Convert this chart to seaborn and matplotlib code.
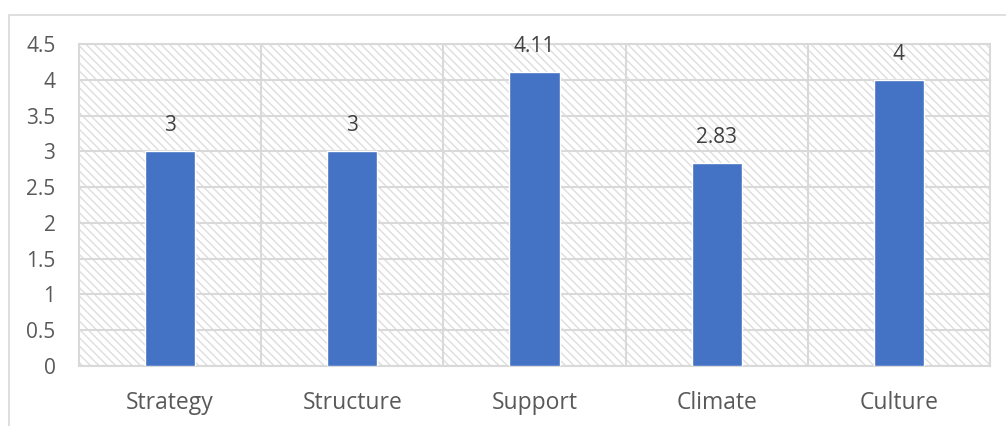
import matplotlib
matplotlib.use("Agg")
import matplotlib.pyplot as plt
import seaborn as sns
import pandas as pd
from matplotlib.patches import Rectangle

categories = ["Strategy", "Structure", "Support", "Climate", "Culture"]
values = [3, 3, 4.11, 2.83, 4]
value_labels = ["3", "3", "4.11", "2.83", "4"]
y_ticks = [0, 0.5, 1, 1.5, 2, 2.5, 3, 3.5, 4, 4.5]
y_tick_labels = ["0", "0.5", "1", "1.5", "2", "2.5", "3", "3.5", "4", "4.5"]

sns.set_theme(style="white")
plt.rcParams['font.family'] = ['Open Sans', 'DejaVu Sans']
plt.rcParams['hatch.linewidth'] = 1.0
plt.rcParams['hatch.color'] = '#dedede'

df = pd.DataFrame({"category": categories, "value": values})

fig = plt.figure(figsize=(10.06, 4.26), dpi=100)
fig.patch.set_facecolor("white")
# outer chart border (cropped on right/bottom)
fig.add_artist(Rectangle((9/1006, -0.1), 1.2, (426-15)/426 + 0.1, transform=fig.transFigure,
                         fill=False, edgecolor="#d9d9d9", linewidth=1.2))

ax = fig.add_axes([79/1006, 60/426, (990-79)/1006, (366-44)/426])
ax.set_facecolor("white")
ax.add_patch(Rectangle((0, 0), 1, 1, transform=ax.transAxes, facecolor="white",
                       edgecolor="#dedede", hatch="\\\\\\\\", linewidth=0, zorder=0))

sns.barplot(data=df, x="category", y="value", color="#4472C4", saturation=1,
            width=0.275, ax=ax, zorder=3)

ax.set_xlim(-0.5, 4.5)
ax.set_ylim(0, 4.5)
ax.set_yticks(y_ticks)
ax.set_yticklabels(y_tick_labels)
for y in y_ticks:
    ax.axhline(y, color="#d9d9d9", linewidth=1.5, zorder=1)
for xb in [0.5, 1.5, 2.5, 3.5]:
    ax.axvline(xb, color="#d9d9d9", linewidth=1.5, zorder=1)
for s in ax.spines.values():
    s.set_color("#d9d9d9")
    s.set_linewidth(1.5)

for i, (v, lab) in enumerate(zip(values, value_labels)):
    ax.annotate(lab, (i, v), xytext=(0, 18.5), textcoords="offset points",
                ha="center", va="center", fontsize=15, color="#404040")

ax.set_xlabel("")
ax.set_ylabel("")
ax.tick_params(axis="both", length=0, labelcolor="#595959")
ax.tick_params(axis="x", labelsize=16.5, pad=18)
ax.tick_params(axis="y", labelsize=15, pad=17)

fig.savefig("out.png", dpi=100, facecolor="white")
